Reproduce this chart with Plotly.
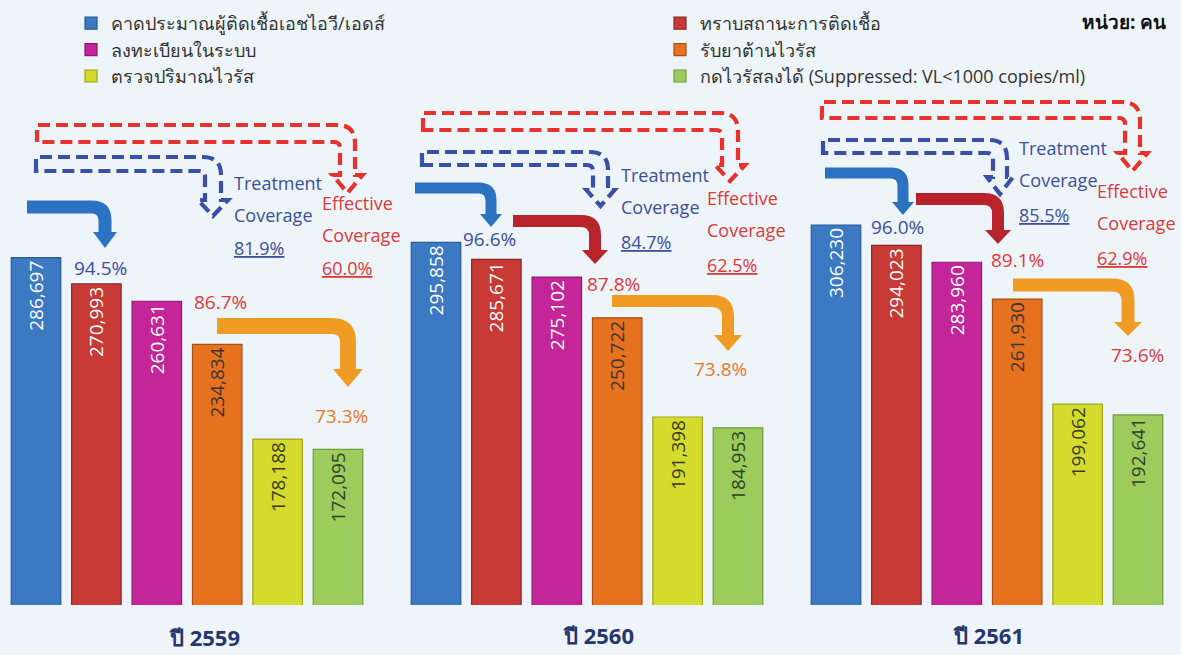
import plotly.graph_objects as go

# ---- data ----
years = ["ปี 2559", "ปี 2560", "ปี 2561"]
series_names = [
    "คาดประมาณผู้ติดเชื้อเอชไอวี/เอดส์",
    "ทราบสถานะการติดเชื้อ",
    "ลงทะเบียนในระบบ",
    "รับยาต้านไวรัส",
    "ตรวจปริมาณไวรัส",
    "กดไวรัสลงได้ (Suppressed: VL<1000 copies/ml)",
]
estimated = [286697, 295858, 306230]
known_status = [270993, 285671, 294023]
registered = [260631, 275102, 283960]
on_arv = [234834, 250722, 261930]
vl_tested = [178188, 191398, 199062]
suppressed = [172095, 184953, 192641]

pct_known = ["94.5%", "96.6%", "96.0%"]
pct_on_arv = ["86.7%", "87.8%", "89.1%"]
pct_suppressed = ["73.3%", "73.8%", "73.6%"]
treatment_coverage = ["81.9%", "84.7%", "85.5%"]
effective_coverage = ["60.0%", "62.5%", "62.9%"]

# ---- styling ----
W, H = 1181, 655
PB = 605  # bottom of the plotting area in pixels
BG = "#eef5fa"
colors = ["#3b79c3", "#c83a36", "#c4269a", "#e6711f", "#d4db2c", "#9dcc5c"]
edges = ["#2a5a98", "#8e2522", "#8e1a6f", "#a84f12", "#9ea31c", "#6f9a3c"]
text_colors = ["white", "white", "white", "#3c3530", "#3a3a2a", "#2f3f2a"]
legends = ["legend", "legend2", "legend", "legend2", "legend", "legend2"]
values = [estimated, known_status, registered, on_arv, vl_tested, suppressed]

NAVY = "#3d4ea3"
RED = "#e0393a"
ORANGE = "#e8782a"
FONT = "Open Sans, Noto Sans, sans-serif"


def P(x, y):
    """pixel position -> paper coordinates string"""
    return f"{x / W:.5f},{(PB - y) / PB:.5f}"


def px(x, y):
    return x / W, (PB - y) / PB


fig = go.Figure()
for i, (name, vals) in enumerate(zip(series_names, values)):
    fig.add_trace(go.Bar(
        x=[0, 1, 2], y=vals, name=name,
        marker=dict(color=colors[i], line=dict(color=edges[i], width=1.2)),
        text=[f"{v:,}" for v in vals], textposition="inside",
        insidetextanchor="end", textangle=-90,
        textfont=dict(color=text_colors[i], size=19, family=FONT),
        legend=legends[i], legendgroup=f"g{i}",
        hoverinfo="skip",
    ))

shapes = []


def solid_arrow(x0, yc, xc, t, head_top, tip, hw, R, color):
    h = t / 2
    r_in = max(R - t, 3)
    path = (
        f"M{P(x0, yc - h)} L{P(xc + h - R, yc - h)} "
        f"Q{P(xc + h, yc - h)} {P(xc + h, yc - h + R)} "
        f"L{P(xc + h, head_top)} L{P(xc + hw, head_top)} L{P(xc, tip)} "
        f"L{P(xc - hw, head_top)} L{P(xc - h, head_top)} "
        f"L{P(xc - h, yc + h + r_in)} Q{P(xc - h, yc + h)} {P(xc - h - r_in, yc + h)} "
        f"L{P(x0, yc + h)} Z"
    )
    shapes.append(dict(type="path", xref="paper", yref="paper", path=path,
                       fillcolor=color, line=dict(width=0), layer="above"))


def dashed_arrow(x0, y_top, y_bot, x_in, x_out, neck, hw, tip, color):
    xc = (x_in + x_out) / 2
    R = 18
    r2 = 6
    path = (
        f"M{P(x0, y_bot)} L{P(x0, y_top)} L{P(x_out - R, y_top)} "
        f"Q{P(x_out, y_top)} {P(x_out, y_top + R)} L{P(x_out, neck)} "
        f"L{P(xc + hw, neck)} L{P(xc, tip)} L{P(xc - hw, neck)} L{P(x_in, neck)} "
        f"L{P(x_in, y_bot + r2)} Q{P(x_in, y_bot)} {P(x_in - r2, y_bot)} Z"
    )
    shapes.append(dict(type="path", xref="paper", yref="paper", path=path,
                       line=dict(color=color, width=4.2, dash="12px,6px"), layer="above"))


BLUE_A, RED_A, ORANGE_A = "#2b73c2", "#b9232b", "#f09b24"
DBLUE, DRED = "#3a4fa8", "#e8322d"

# dashed coverage arrows
dashed_arrow(36, 157, 171, 205, 221, 200, 15, 216, DBLUE)
dashed_arrow(422, 152, 165, 593, 608, 190, 14, 206, DBLUE)
dashed_arrow(823, 140, 153, 993, 1007, 177, 13, 194, DBLUE)
dashed_arrow(37, 125, 142, 340, 355, 175, 15, 193, DRED)
dashed_arrow(423, 113, 130, 722, 738, 165, 15, 181, DRED)
dashed_arrow(822, 102, 118, 1125, 1140, 153, 15, 171, DRED)

# solid step arrows
solid_arrow(27, 207, 105, 13, 232, 248, 12, 20, BLUE_A)
solid_arrow(217, 326, 348, 16, 369, 387, 15, 24, ORANGE_A)
solid_arrow(415, 188, 491, 11, 214, 227, 11, 18, BLUE_A)
solid_arrow(513, 221, 595, 12, 250, 264, 13, 20, RED_A)
solid_arrow(612, 301, 728, 12, 335, 351, 14, 22, ORANGE_A)
solid_arrow(825, 173, 903, 11, 202, 215, 11, 18, BLUE_A)
solid_arrow(916, 199, 998, 12, 230, 244, 13, 20, RED_A)
solid_arrow(1013, 285, 1128, 13, 322, 336, 14, 22, ORANGE_A)

annotations = []


def note(x, y, text, color, size=19, xanchor="center", bold=False, family=FONT):
    ax, ay = px(x, y)
    annotations.append(dict(
        x=ax, y=ay, xref="paper", yref="paper", text=(f"<b>{text}</b>" if bold else text),
        showarrow=False, xanchor=xanchor, yanchor="middle",
        font=dict(color=color, size=size, family=family)))


def underline(s):
    return f'<span style="text-decoration:underline">{s}</span>'


# step percentages
for (x, y), s in zip([(100, 268), (490, 239), (897, 227)], pct_known):
    note(x, y, s, NAVY)
for (x, y), s in zip([(220, 302), (613, 284), (1017, 260)], pct_on_arv):
    note(x, y, s, RED)
for (x, y), s, c in zip([(341, 416), (720, 369), (1137, 355)], pct_suppressed,
                        [ORANGE, ORANGE, RED]):
    note(x, y, s, c)

# coverage labels
tc_pos = [(232, 183, 215, 248), (619, 175, 207, 242), (1017, 148, 180, 215)]
for (x, y1, y2, y3), s in zip(tc_pos, treatment_coverage):
    note(x, y1, "Treatment", NAVY, 18, "left")
    note(x, y2, "Coverage", NAVY, 18, "left")
    note(x, y3, underline(s), NAVY, 18, "left")
ec_pos = [(320, 203, 235, 268), (705, 198, 230, 265), (1095, 191, 223, 258)]
for (x, y1, y2, y3), s in zip(ec_pos, effective_coverage):
    note(x, y1, "Effective", RED, 18, "left")
    note(x, y2, "Coverage", RED, 18, "left")
    note(x, y3, underline(s), RED, 18, "left")

# year labels under the groups
for (x, y), s in zip([(205, 637), (598, 635), (988, 635)], years):
    note(x, y, s, "#26366e", 22, bold=True)

# unit
note(1168, 22, "หน่วย: คน", "#111111", 19, "right", bold=True)

legend_common = dict(
    yanchor="top", xanchor="left", y=(PB - 5) / PB,
    bgcolor="rgba(0,0,0,0)", font=dict(size=18, color="#333333", family=FONT),
    tracegroupgap=10, traceorder="normal", itemclick=False, itemdoubleclick=False,
)

fig.update_layout(
    width=W, height=H,
    margin=dict(l=0, r=0, t=0, b=H - PB, pad=0),
    paper_bgcolor=BG, plot_bgcolor=BG,
    barmode="group", bargap=0.094, bargroupgap=0.18,
    xaxis=dict(range=[-187 / 400, (W - 187) / 400], visible=False, fixedrange=True),
    yaxis=dict(range=[78985, 440784], visible=False, fixedrange=True),
    showlegend=True,
    legend=dict(x=71 / W, **legend_common),
    legend2=dict(x=660 / W, **legend_common),
    shapes=shapes,
    annotations=annotations,
    font=dict(family=FONT),
)

fig.write_html("out.html")
